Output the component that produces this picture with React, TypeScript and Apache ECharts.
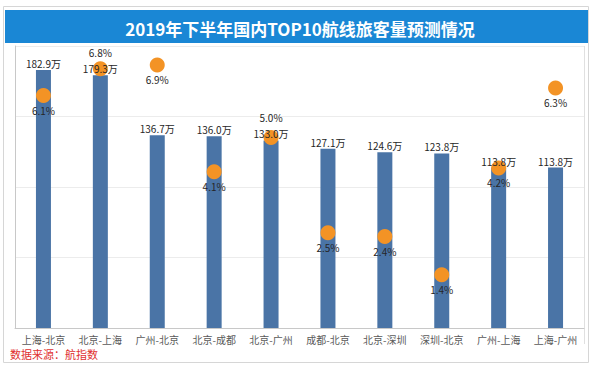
import React, { useEffect, useRef } from "react";
import * as echarts from "echarts";

const routes = ["上海-北京", "北京-上海", "广州-北京", "北京-成都", "北京-广州", "成都-北京", "北京-深圳", "深圳-北京", "广州-上海", "上海-广州"];
const volumes = [182.9, 179.3, 136.7, 136.0, 133.0, 127.1, 124.6, 123.8, 113.8, 113.8];
const growth = [6.1, 6.8, 6.9, 4.1, 5.0, 2.5, 2.4, 1.4, 4.2, 6.3];
const growthLabelAbove = [false, true, false, false, true, false, false, false, false, false];
const titleText = "2019年下半年国内TOP10航线旅客量预测情况";
const sourceText = "数据来源：航指数";

const FONT = '"Noto Sans CJK SC", "Noto Sans", sans-serif';

export default function App() {
  const ref = useRef<HTMLDivElement>(null);
  useEffect(() => {
    if (!ref.current) return;
    const chart = echarts.init(ref.current, null, { renderer: "svg" });
    chart.setOption({
      animation: false,
      backgroundColor: "#ffffff",
      textStyle: { fontFamily: FONT },
      title: {
        text: titleText,
        left: "center",
        top: 15,
        textStyle: { color: "#ffffff", fontSize: 17, fontWeight: "bold", fontFamily: FONT },
      },
      graphic: [
        { type: "rect", z: -10, shape: { x: 3.5, y: 6.5, width: 585, height: 356 }, style: { fill: "#ffffff", stroke: "#d6d6d6", lineWidth: 1 } },
        { type: "rect", z: -5, shape: { x: 5, y: 10, width: 583, height: 33 }, style: { fill: "#1a87d5" } },
        { type: "line", z: -5, shape: { x1: 584.5, y1: 46, x2: 584.5, y2: 344 }, style: { stroke: "#e0e0e0", lineWidth: 1 } },
        { type: "text", left: 10, top: 348, style: { text: sourceText, fill: "#e0302f", fontSize: 11, fontFamily: FONT } },
      ],
      grid: { left: 15, right: 16, top: 46, bottom: 42 },
      xAxis: {
        type: "category",
        data: routes,
        axisTick: { show: false },
        axisLine: { lineStyle: { color: "#c8c8c8" } },
        axisLabel: { color: "#595959", fontSize: 10, margin: 6, interval: 0, fontFamily: FONT },
      },
      yAxis: [
        {
          type: "value",
          min: 0,
          max: 200,
          interval: 50,
          axisLabel: { show: false },
          axisTick: { show: false },
          axisLine: { show: true, lineStyle: { color: "#c8c8c8" } },
          splitLine: { lineStyle: { color: "#ececec" } },
        },
        {
          type: "value",
          min: 0,
          max: 7.4,
          axisLabel: { show: false },
          axisTick: { show: false },
          axisLine: { show: false },
          splitLine: { show: false },
        },
      ],
      series: [
        {
          type: "bar",
          data: volumes,
          barWidth: 15,
          itemStyle: { color: "#4a74a6" },
          z: 2,
        },
        {
          type: "scatter",
          yAxisIndex: 1,
          symbolSize: 15,
          itemStyle: { color: "#f39325", opacity: 1 },
          data: growth.map((v, i) => ({
            value: v,
            label: { position: growthLabelAbove[i] ? "top" : "bottom", distance: growthLabelAbove[i] ? (i === 4 ? 7 : 4) : 2 },
          })),
          label: {
            show: true,
            color: "#262626",
            fontSize: 10,
            fontFamily: FONT,
            formatter: (p: any) => Number(p.value).toFixed(1) + "%",
          },
          z: 3,
        },
        {
          type: "scatter",
          data: volumes,
          symbolSize: 1,
          silent: true,
          itemStyle: { color: "rgba(0,0,0,0)", opacity: 1 },
          label: {
            show: true,
            position: "top",
            distance: 1,
            color: "#262626",
            fontSize: 10,
            fontFamily: FONT,
            formatter: (p: any) => Number(p.value).toFixed(1) + "万",
          },
          z: 10,
        },
      ],
    });
    return () => chart.dispose();
  }, []);
  return <div ref={ref} style={{ width: 600, height: 370, position: "absolute", left: 0, top: 0 }} />;
}
